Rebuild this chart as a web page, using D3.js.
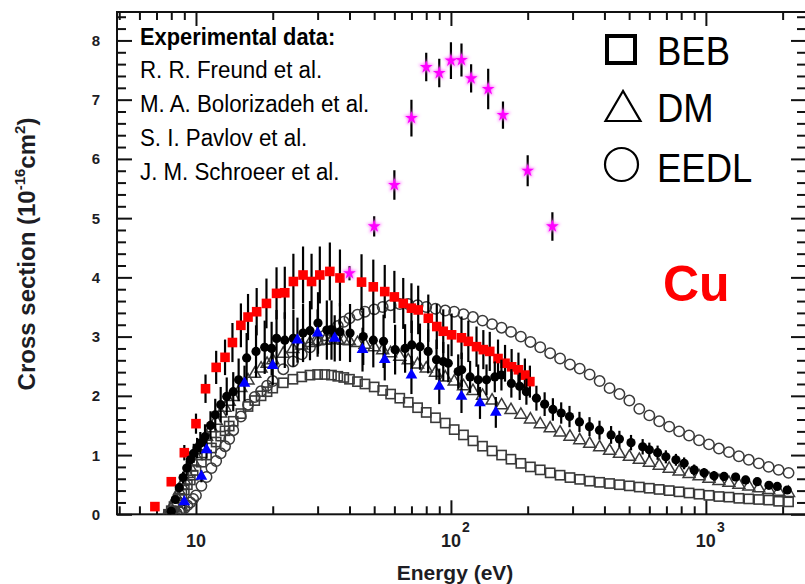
<!DOCTYPE html>
<html>
<head>
<meta charset="utf-8">
<script src="https://cdn.jsdelivr.net/npm/d3@7"></script>
<style>
  html, body { margin: 0; padding: 0; background: #fff; }
  svg { display: block; font-family: "Liberation Sans", Arial, Helvetica, sans-serif; }
</style>
</head>
<body>
<svg id="chart" width="805" height="584"></svg>
<script>
// ---------- data ----------
// Shared energy grid (eV) of the three calculated cross sections
const theoryEnergy = [7.8, 8.0, 8.2, 8.4, 8.6, 8.8, 9.0, 9.25, 9.5, 9.75, 10, 10.5, 11, 11.5, 12, 12.5, 13, 13.5, 14, 15, 16, 17, 18, 19, 20, 22, 24, 26, 28, 30, 32, 34, 36, 38, 40, 43, 46, 50, 54, 58, 63, 68, 74, 80, 87, 95, 103, 112, 122, 133, 145, 158, 172, 188, 205, 224, 245, 268, 293, 320, 350, 383, 419, 458, 501, 548, 600, 656, 718, 785, 859, 940, 1028, 1125, 1231, 1347, 1473, 1612, 1763, 1929, 2110];
// BEB (open squares), 1e-16 cm^2
const bebValues = [0.0, 0.06, 0.13, 0.2, 0.27, 0.34, 0.41, 0.5, 0.58, 0.66, 0.74, 0.88, 1.0, 1.12, 1.22, 1.32, 1.41, 1.49, 1.57, 1.7, 1.82, 1.92, 2.0, 2.07, 2.13, 2.22, 2.28, 2.32, 2.35, 2.36, 2.36, 2.35, 2.33, 2.31, 2.28, 2.24, 2.2, 2.15, 2.09, 2.03, 1.96, 1.89, 1.8, 1.72, 1.63, 1.54, 1.43, 1.34, 1.24, 1.15, 1.07, 1.0, 0.93, 0.86, 0.8, 0.75, 0.7, 0.66, 0.62, 0.59, 0.56, 0.54, 0.52, 0.5, 0.48, 0.46, 0.44, 0.42, 0.4, 0.38, 0.36, 0.34, 0.32, 0.3, 0.29, 0.27, 0.26, 0.25, 0.24, 0.22, 0.21];
// DM (open triangles)
const dmValues = [0.0, 0.09, 0.19, 0.29, 0.39, 0.48, 0.57, 0.68, 0.79, 0.89, 0.98, 1.15, 1.31, 1.45, 1.58, 1.7, 1.8, 1.9, 1.98, 2.13, 2.26, 2.37, 2.46, 2.54, 2.6, 2.71, 2.79, 2.85, 2.89, 2.92, 2.93, 2.94, 2.94, 2.93, 2.92, 2.89, 2.86, 2.82, 2.77, 2.72, 2.66, 2.6, 2.53, 2.46, 2.39, 2.31, 2.24, 2.16, 2.08, 2.0, 1.92, 1.84, 1.76, 1.68, 1.6, 1.52, 1.45, 1.38, 1.31, 1.25, 1.19, 1.13, 1.07, 1.02, 0.97, 0.92, 0.87, 0.82, 0.77, 0.72, 0.68, 0.64, 0.6, 0.56, 0.53, 0.5, 0.47, 0.44, 0.41, 0.38, 0.36];
// EEDL (open circles)
const eedlValues = [0.0, 0.0, 0.01, 0.02, 0.04, 0.07, 0.1, 0.15, 0.2, 0.26, 0.32, 0.48, 0.63, 0.78, 0.9, 1.03, 1.15, 1.27, 1.42, 1.65, 1.85, 1.98, 2.08, 2.17, 2.25, 2.45, 2.58, 2.7, 2.82, 2.93, 3.02, 3.1, 3.18, 3.25, 3.31, 3.37, 3.42, 3.46, 3.5, 3.53, 3.55, 3.55, 3.53, 3.5, 3.47, 3.44, 3.42, 3.38, 3.33, 3.27, 3.21, 3.15, 3.08, 3.0, 2.91, 2.82, 2.72, 2.63, 2.53, 2.46, 2.36, 2.25, 2.13, 2.03, 1.92, 1.78, 1.67, 1.57, 1.48, 1.4, 1.33, 1.25, 1.18, 1.11, 1.05, 0.98, 0.92, 0.86, 0.8, 0.75, 0.7];

// R. R. Freund et al. (red squares)
const freundEnergy = [6.9, 8, 9, 10, 10.9, 12, 13, 13.9, 15, 16, 17.3, 18.9, 20.7, 22.3, 24.1, 26.3, 28.4, 30.6, 33.5, 36.7, 44.6, 49.6, 55, 60, 65, 70, 74.4, 81.5, 88, 93.3, 100.6, 110, 117, 126, 134, 142, 153, 163, 173, 184, 195, 204];
const freundValues = [0.13, 0.55, 1.04, 1.53, 2.12, 2.48, 2.65, 2.9, 3.19, 3.33, 3.42, 3.56, 3.73, 3.74, 3.93, 4.04, 3.93, 4.04, 4.1, 3.99, 3.92, 3.84, 3.76, 3.67, 3.56, 3.48, 3.45, 3.31, 3.17, 3.09, 3.03, 2.98, 2.92, 2.83, 2.78, 2.75, 2.63, 2.55, 2.49, 2.44, 2.35, 2.24];
const freundErrors = [0.03, 0.07, 0.13, 0.17, 0.24, 0.28, 0.3, 0.33, 0.37, 0.39, 0.4, 0.42, 0.44, 0.44, 0.47, 0.48, 0.47, 0.48, 0.49, 0.48, 0.47, 0.46, 0.45, 0.44, 0.43, 0.42, 0.41, 0.4, 0.38, 0.37, 0.36, 0.36, 0.35, 0.34, 0.33, 0.33, 0.32, 0.31, 0.3, 0.29, 0.28, 0.27];

// M. A. Bolorizadeh et al. (filled black circles)
const bolorEnergy = [8.0, 8.3, 8.6, 8.9, 9.2, 9.5, 9.8, 10.1, 10.4, 10.85, 11.4, 11.9, 12.5, 13.2, 14.0, 14.7, 15.8, 17.2, 18.6, 19.8, 20.7, 22.3, 24.1, 26.3, 28, 30.1, 32.6, 34, 36.7, 40.2, 45.3, 49.6, 54.4, 60.4, 66.1, 70.2, 75.6, 81.4, 87.8, 93.3, 97.6, 106.8, 110.2, 118.9, 127.9, 137.9, 148.6, 157.8, 172.6, 186.1, 197.7, 216.4, 233.1, 251.1, 270.7, 291.8, 319.2, 349.6, 382.6, 424.8, 457.9, 508.6, 565, 600, 646.6, 696.6, 762.9, 821.6, 899.3, 983.9, 1076, 1178, 1308, 1432, 1590, 1767, 1905, 2085];
const bolorValues = [0.05, 0.25, 0.45, 0.62, 0.78, 0.92, 1.03, 1.12, 1.2, 1.31, 1.5, 1.68, 1.85, 1.99, 2.07, 2.27, 2.64, 2.75, 2.82, 2.8, 2.97, 2.94, 2.97, 3.06, 3.1, 3.23, 3.11, 3.11, 3.08, 3.06, 3.0, 2.94, 2.92, 2.78, 2.8, 2.86, 2.83, 2.75, 2.61, 2.58, 2.55, 2.41, 2.44, 2.32, 2.27, 2.27, 2.32, 2.35, 2.21, 2.16, 2.07, 1.96, 1.86, 1.77, 1.71, 1.65, 1.56, 1.48, 1.42, 1.34, 1.27, 1.21, 1.14, 1.09, 1.04, 0.97, 0.92, 0.86, 0.75, 0.7, 0.65, 0.64, 0.63, 0.58, 0.55, 0.49, 0.47, 0.41];
const bolorErrors = [0.02, 0.05, 0.08, 0.1, 0.12, 0.14, 0.16, 0.17, 0.19, 0.21, 0.24, 0.27, 0.3, 0.32, 0.33, 0.36, 0.42, 0.44, 0.45, 0.45, 0.48, 0.47, 0.48, 0.49, 0.5, 0.52, 0.5, 0.5, 0.49, 0.49, 0.48, 0.46, 0.45, 0.42, 0.41, 0.41, 0.39, 0.37, 0.34, 0.33, 0.32, 0.29, 0.29, 0.27, 0.26, 0.26, 0.26, 0.26, 0.24, 0.23, 0.22, 0.21, 0.2, 0.19, 0.18, 0.18, 0.17, 0.16, 0.16, 0.15, 0.14, 0.13, 0.13, 0.12, 0.12, 0.11, 0.1, 0.1, 0.09, 0.08, 0.08, 0.07, 0.07, 0.07, 0.06, 0.06, 0.06, 0.05];

// S. I. Pavlov et al. (blue triangles)
const pavlovEnergy = [9, 10.5, 11, 15.5, 20, 25, 30, 35, 45, 55, 70, 90, 110, 130, 150];
const pavlovValues = [0.21, 0.64, 1.09, 2.21, 2.51, 2.94, 3.06, 2.97, 2.78, 2.61, 2.35, 2.16, 1.99, 1.88, 1.72];
const pavlovErrors = [0.07, 0.1, 0.15, 0.3, 0.33, 0.38, 0.4, 0.39, 0.37, 0.35, 0.32, 0.3, 0.28, 0.27, 0.26];

// J. M. Schroeer et al. (magenta stars)
const schroeerEnergy = [40, 50, 60, 70, 80, 90, 100, 110, 120, 140, 160, 200, 250];
const schroeerValues = [4.07, 4.86, 5.56, 6.69, 7.55, 7.45, 7.66, 7.67, 7.36, 7.18, 6.74, 5.8, 4.86];
const schroeerErrors = [0.12, 0.17, 0.25, 0.31, 0.24, 0.24, 0.31, 0.28, 0.24, 0.34, 0.23, 0.26, 0.24];

// Axis ticks and labels
const xMajorTicks = [10, 100, 1000];
const xMajorExponents = ["", "2", "3"];
const yMajorTicks = [0, 1, 2, 3, 4, 5, 6, 7, 8];
const experimentTitle = "Experimental data:";
const experimentAuthors = ["R. R. Freund et al.", "M. A. Bolorizadeh et al.", "S. I. Pavlov et al.", "J. M. Schroeer et al."];
const theoryNames = ["BEB", "DM", "EEDL"];
const elementLabel = "Cu";

// ---------- layout ----------
const plot = { left: 117, right: 806, top: 12, bottom: 514.3 };
const svg = d3.select("#chart");

const x = d3.scaleLog().domain([4.9, 2470]).range([plot.left, plot.right]);
const y = d3.scaleLinear().domain([0, 8.48]).range([plot.bottom, plot.top]);

const defs = svg.append("defs");
defs.append("clipPath").attr("id", "plot-clip")
  .append("rect")
  .attr("x", plot.left).attr("y", plot.top)
  .attr("width", plot.right - plot.left).attr("height", plot.bottom - plot.top);
defs.append("filter").attr("id", "glow").attr("x", "-50%").attr("y", "-50%").attr("width", "200%").attr("height", "200%")
  .append("feGaussianBlur").attr("stdDeviation", 1.6);

const zip = (xs, ys, es) => xs.map((e, i) => ({ e, v: ys[i], err: es ? es[i] : 0 }));

// ---------- axes (ticks point inward on all four sides) ----------
const axisColor = "#111";
const xMinor = x.ticks().filter(v => !xMajorTicks.includes(v));
const yMinor = y.ticks(42).filter(v => Math.abs(v - Math.round(v)) > 1e-6);

function styleAxis(g) {
  g.select(".domain").remove();
  g.selectAll(".tick line").attr("stroke", axisColor).attr("stroke-width", 2);
  g.selectAll(".tick text").remove();
}
const axes = svg.append("g").attr("class", "axes");
// bottom
axes.append("g").attr("transform", `translate(0,${plot.bottom})`)
  .call(d3.axisBottom(x).tickValues(xMinor).tickSize(-8)).call(styleAxis);
axes.append("g").attr("transform", `translate(0,${plot.bottom})`)
  .call(d3.axisBottom(x).tickValues(xMajorTicks).tickSize(-14)).call(styleAxis);
// top
axes.append("g").attr("transform", `translate(0,${plot.top})`)
  .call(d3.axisTop(x).tickValues(xMinor).tickSize(-8)).call(styleAxis);
axes.append("g").attr("transform", `translate(0,${plot.top})`)
  .call(d3.axisTop(x).tickValues(xMajorTicks).tickSize(-14)).call(styleAxis);
// left
axes.append("g").attr("transform", `translate(${plot.left},0)`)
  .call(d3.axisLeft(y).tickValues(yMinor).tickSize(-9)).call(styleAxis);
axes.append("g").attr("transform", `translate(${plot.left},0)`)
  .call(d3.axisLeft(y).tickValues(yMajorTicks).tickSize(-15)).call(styleAxis);
// right
axes.append("g").attr("transform", `translate(${plot.right},0)`)
  .call(d3.axisRight(y).tickValues(yMinor).tickSize(-9)).call(styleAxis);
axes.append("g").attr("transform", `translate(${plot.right},0)`)
  .call(d3.axisRight(y).tickValues(yMajorTicks).tickSize(-15)).call(styleAxis);

// frame
axes.append("rect")
  .attr("x", plot.left).attr("y", plot.top)
  .attr("width", plot.right - plot.left).attr("height", plot.bottom - plot.top)
  .attr("fill", "none").attr("stroke", axisColor).attr("stroke-width", 2);

// tick labels
const labelColor = "#1d1d24";
svg.append("g").selectAll("text").data(yMajorTicks).join("text")
  .attr("x", 96).attr("y", d => y(d) + 5.5)
  .attr("text-anchor", "middle")
  .attr("font-size", 15).attr("font-weight", "bold").attr("fill", labelColor)
  .text(d => d);

const xLab = svg.append("g");
xMajorTicks.forEach((t, i) => {
  xLab.append("text")
    .attr("x", x(t)).attr("y", 547)
    .attr("text-anchor", "middle")
    .attr("font-size", 18).attr("font-weight", "bold").attr("fill", labelColor)
    .text("10");
  if (xMajorExponents[i]) {
    xLab.append("text")
      .attr("x", x(t) + 11).attr("y", 532)
      .attr("font-size", 14).attr("font-weight", "bold").attr("fill", labelColor)
      .text(xMajorExponents[i]);
  }
});

// axis titles
svg.append("text")
  .attr("x", 455).attr("y", 580)
  .attr("text-anchor", "middle")
  .attr("font-size", 21).attr("font-weight", "bold").attr("fill", labelColor)
  .text("Energy (eV)");

const yTitle = svg.append("text")
  .attr("transform", "translate(35,254) rotate(-90)")
  .attr("text-anchor", "middle")
  .attr("font-size", 24).attr("font-weight", "bold").attr("fill", labelColor);
yTitle.append("tspan").text("Cross section (10");
yTitle.append("tspan").attr("font-size", 15).attr("dy", -10).text("-16");
yTitle.append("tspan").attr("dy", 10).text("cm");
yTitle.append("tspan").attr("font-size", 15).attr("dy", -10).text("2");
yTitle.append("tspan").attr("dy", 10).text(")");

// ---------- marks ----------
const marks = svg.append("g").attr("clip-path", "url(#plot-clip)");
const theoryStroke = "#3a3a3a";

// BEB open squares
marks.append("g").selectAll("rect").data(zip(theoryEnergy, bebValues)).join("rect")
  .attr("x", d => x(d.e) - 4.6).attr("y", d => y(d.v) - 4.6)
  .attr("width", 9.2).attr("height", 9.2)
  .attr("fill", "none").attr("stroke", theoryStroke).attr("stroke-width", 1.6);

// DM open triangles
const triPath = d3.symbol(d3.symbolTriangle, 62)();
marks.append("g").selectAll("path").data(zip(theoryEnergy, dmValues)).join("path")
  .attr("d", triPath)
  .attr("transform", d => `translate(${x(d.e)},${y(d.v)})`)
  .attr("fill", "none").attr("stroke", theoryStroke).attr("stroke-width", 1.5);

// EEDL open circles
marks.append("g").selectAll("circle").data(zip(theoryEnergy, eedlValues)).join("circle")
  .attr("cx", d => x(d.e)).attr("cy", d => y(d.v)).attr("r", 5.2)
  .attr("fill", "none").attr("stroke", theoryStroke).attr("stroke-width", 1.5);

function errorBars(g, data) {
  g.append("g").selectAll("line").data(data).join("line")
    .attr("x1", d => x(d.e)).attr("x2", d => x(d.e))
    .attr("y1", d => y(d.v - d.err)).attr("y2", d => y(d.v + d.err))
    .attr("stroke", "#000").attr("stroke-width", 2.2);
}

// Freund: red squares
const freund = zip(freundEnergy, freundValues, freundErrors);
errorBars(marks, freund);
marks.append("g").selectAll("rect").data(freund).join("rect")
  .attr("x", d => x(d.e) - 4.8).attr("y", d => y(d.v) - 4.8)
  .attr("width", 9.6).attr("height", 9.6)
  .attr("fill", "#ff0000");

// Bolorizadeh: filled black circles
const bolor = zip(bolorEnergy, bolorValues, bolorErrors);
errorBars(marks, bolor);
marks.append("g").selectAll("circle").data(bolor).join("circle")
  .attr("cx", d => x(d.e)).attr("cy", d => y(d.v)).attr("r", 4.6)
  .attr("fill", "#000");

// Pavlov: blue triangles
const pavlov = zip(pavlovEnergy, pavlovValues, pavlovErrors);
errorBars(marks, pavlov);
const solidTri = d3.symbol(d3.symbolTriangle, 60)();
marks.append("g").selectAll("path").data(pavlov).join("path")
  .attr("d", solidTri)
  .attr("transform", d => `translate(${x(d.e)},${y(d.v)})`)
  .attr("fill", "#0000ff");

// Schroeer: magenta stars with a soft halo
const schroeer = zip(schroeerEnergy, schroeerValues, schroeerErrors);
errorBars(marks, schroeer);
const starPath = d3.symbol(d3.symbolStar, 50)();
marks.append("g").attr("filter", "url(#glow)").selectAll("path").data(schroeer).join("path")
  .attr("d", d3.symbol(d3.symbolStar, 80)())
  .attr("transform", d => `translate(${x(d.e)},${y(d.v)})`)
  .attr("fill", "#ff66ff");
marks.append("g").selectAll("path").data(schroeer).join("path")
  .attr("d", starPath)
  .attr("transform", d => `translate(${x(d.e)},${y(d.v)})`)
  .attr("fill", "#ff00ff");

// ---------- legends ----------
const leftLegend = svg.append("g").attr("fill", "#000");
leftLegend.append("text")
  .attr("transform", "translate(140,45) scale(0.97,1.05)")
  .attr("font-size", 22.5).attr("font-weight", "bold")
  .text(experimentTitle);
leftLegend.selectAll("text.author").data(experimentAuthors).join("text")
  .attr("class", "author")
  .attr("transform", (d, i) => `translate(140,${78 + i * 34}) scale(0.97,1.05)`)
  .attr("font-size", 23)
  .text(d => d);

const rightLegend = svg.append("g");
rightLegend.append("rect")
  .attr("x", 607).attr("y", 36).attr("width", 28).attr("height", 27)
  .attr("fill", "none").attr("stroke", "#000").attr("stroke-width", 4);
rightLegend.append("path")
  .attr("d", "M623,91 L605.5,121 L640.5,121 Z")
  .attr("fill", "none").attr("stroke", "#000").attr("stroke-width", 2.2).attr("stroke-linejoin", "miter");
rightLegend.append("circle")
  .attr("cx", 621.5).attr("cy", 164.5).attr("r", 16.5)
  .attr("fill", "none").attr("stroke", "#000").attr("stroke-width", 2.2);
const legendBaselines = [65, 122, 182];
rightLegend.selectAll("text").data(theoryNames).join("text")
  .attr("transform", (d, i) => `translate(657,${legendBaselines[i]}) scale(0.89,1)`)
  .attr("font-size", 41).attr("fill", "#000")
  .text(d => d);

svg.append("text")
  .attr("x", 663).attr("y", 301)
  .attr("font-size", 50).attr("font-weight", "bold").attr("fill", "#ff0000")
  .text(elementLabel);
</script>
</body>
</html>
